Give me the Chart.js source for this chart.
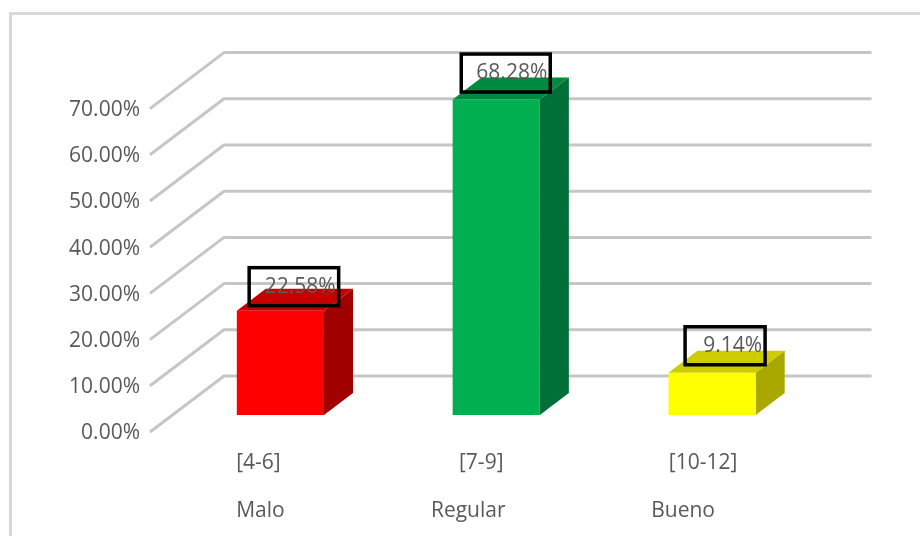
<!DOCTYPE html>
<html lang="es">
<head>
<meta charset="utf-8">
<title>Nivel</title>
<style>
  html, body { margin: 0; padding: 0; background: #fff; }
  #frame { position: absolute; left: 9px; top: 12px; width: 920px; height: 540px; border: 3px solid #d9d9d9; box-sizing: border-box; }
  canvas { position: absolute; left: 0; top: 0; }
  body { width: 920px; height: 536px; overflow: hidden; position: relative; }
</style>
<script src="https://cdn.jsdelivr.net/npm/chart.js@4"></script>
</head>
<body>
<div id="frame"></div>
<canvas id="chart" width="920" height="536"></canvas>
<script>
"use strict";

const rangeLabels = ["[4-6]", "[7-9]", "[10-12]"];
const levelLabels = ["Malo", "Regular", "Bueno"];
const percentages = [22.58, 68.28, 9.14];
const frontColors = ["#ff0000", "#00b050", "#ffff00"];
const sideColors = ["#a00000", "#007038", "#a8a800"];
const topColors = ["#c40000", "#008a3f", "#cccc00"];
const yTicks = [0, 10, 20, 30, 40, 50, 60, 70];

const FONT = '"Open Sans", sans-serif';
const FONT_SIZE = 21;
const TEXT_COLOR = "#595959";

// oblique projection: bars sit between the floor's front edge and the back wall
const FRONT_SHIFT = { x: -22.5, y: 17 };
const BACK_SHIFT = { x: 51.5, y: -39 };
const BAR_DEPTH = { x: 29, y: -22 };

// hand placed captions under the floor, relative to each category centre
const RANGE_NUDGE = [-22, -15, -9];
const LEVEL_NUDGE = [-20, -28, -29];

// offset and width of the boxed percentage above each bar
const BOX_DX = [13.5, 9.5, 13];
const BOX_GAP = [5, 7.5, 8];
const BOX_WIDTH = [89.5, 89, 80];
const BOX_HEIGHT = 38;

function polygon(ctx, points, color) {
  ctx.fillStyle = color;
  ctx.beginPath();
  points.forEach(([x, y], i) => (i ? ctx.lineTo(x, y) : ctx.moveTo(x, y)));
  ctx.closePath();
  ctx.fill();
}

const depthWalls = {
  id: "depthWalls",
  beforeDatasetsDraw(chart) {
    const { ctx, chartArea, scales } = chart;
    ctx.save();
    ctx.strokeStyle = "#c6c6c6";
    ctx.lineWidth = 3;
    ctx.lineJoin = "round";
    yTicks.forEach((tick) => {
      const y = scales.y.getPixelForValue(tick);
      ctx.beginPath();
      ctx.moveTo(chartArea.left + FRONT_SHIFT.x, y + FRONT_SHIFT.y);
      ctx.lineTo(chartArea.left + BACK_SHIFT.x, y + BACK_SHIFT.y);
      ctx.lineTo(chartArea.right + BACK_SHIFT.x, y + BACK_SHIFT.y);
      ctx.stroke();
    });
    ctx.restore();

    // side and top faces go behind the library's front rectangle
    chart.getDatasetMeta(0).data.forEach((bar, i) => {
      const right = bar.x + bar.width / 2;
      const left = bar.x - bar.width / 2;
      const d = BAR_DEPTH;
      polygon(ctx, [[right, bar.y], [right + d.x, bar.y + d.y], [right + d.x, bar.base + d.y], [right, bar.base]], sideColors[i]);
      polygon(ctx, [[left, bar.y], [left + d.x, bar.y + d.y], [right + d.x, bar.y + d.y], [right, bar.y]], topColors[i]);
    });
  },
  afterDatasetsDraw(chart) {
    const { ctx, scales } = chart;
    ctx.save();
    ctx.font = FONT_SIZE + "px " + FONT;
    ctx.textBaseline = "middle";

    chart.getDatasetMeta(0).data.forEach((bar, i) => {
      const cx = bar.x + BOX_DX[i];
      const bottom = bar.y - BOX_GAP[i];
      const left = cx - BOX_WIDTH[i] / 2;
      ctx.fillStyle = TEXT_COLOR;
      ctx.textAlign = "right";
      ctx.fillText(percentages[i].toFixed(2) + "%", left + BOX_WIDTH[i] - 3, bottom - BOX_HEIGHT / 2);
      ctx.strokeStyle = "#000";
      ctx.lineWidth = 3.5;
      ctx.strokeRect(left, bottom - BOX_HEIGHT, BOX_WIDTH[i], BOX_HEIGHT);
    });

    ctx.textAlign = "center";
    ctx.fillStyle = TEXT_COLOR;
    rangeLabels.forEach((label, i) => {
      const x = scales.x.getPixelForTick(i);
      ctx.fillText(label, x + RANGE_NUDGE[i], chart.chartArea.bottom + 48);
      ctx.fillText(levelLabels[i], x + LEVEL_NUDGE[i], chart.chartArea.bottom + 96);
    });
    ctx.restore();
  }
};

new Chart(document.getElementById("chart"), {
  type: "bar",
  data: {
    labels: rangeLabels,
    datasets: [{
      data: percentages,
      backgroundColor: frontColors,
      categoryPercentage: 1,
      barPercentage: 0.404
    }]
  },
  plugins: [depthWalls],
  options: {
    responsive: false,
    animation: false,
    layout: { padding: { left: 60, right: 100, top: 91.6, bottom: 113 } },
    plugins: { legend: { display: false }, tooltip: { enabled: false } },
    scales: {
      x: {
        grid: { display: false },
        border: { display: false },
        ticks: { display: false }
      },
      y: {
        min: 0,
        max: 70,
        afterFit(scale) { scale.width = 112.5; },
        grid: { display: false },
        border: { display: false },
        afterBuildTicks(scale) { scale.ticks = yTicks.map((value) => ({ value })); },
        ticks: {
          padding: 24.5,
          labelOffset: 18.5,
          color: TEXT_COLOR,
          font: { family: FONT, size: FONT_SIZE },
          callback: (value) => value.toFixed(2) + "%"
        }
      }
    }
  }
});
</script>
</body>
</html>
